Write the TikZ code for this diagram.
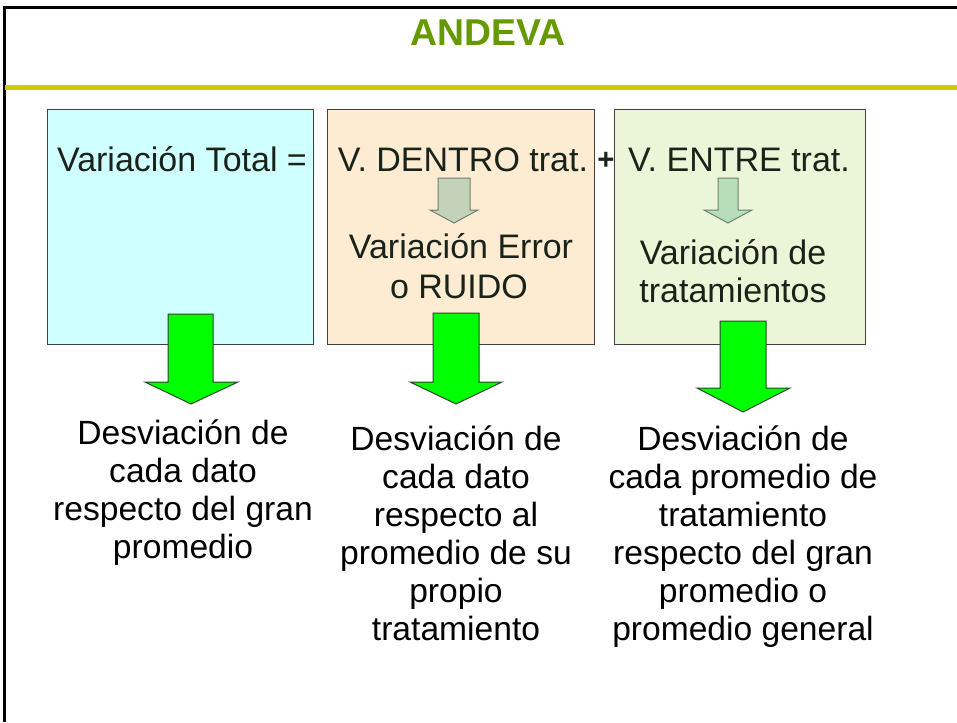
\documentclass[tikz,border=0pt]{standalone}
\usepackage{fontspec}
\setmainfont{Liberation Sans}
\usepackage{tikz}

\begin{document}
\begin{tikzpicture}[x=0.75pt,y=0.75pt,yscale=-1,xscale=1,
  boxtxt/.style={font=\fontsize{25.5}{28.5}\selectfont, color={rgb, 255:red, 25; green, 35; blue, 25 }, anchor=base, inner sep=0pt},
  bottxt/.style={font=\fontsize{25.2}{28.5}\selectfont, align=center, anchor=north, inner sep=0pt},
  panel/.style={draw={rgb, 255:red, 64; green, 64; blue, 64 }, line width=0.75pt},
  bigarrow/.style={draw={rgb, 255:red, 40; green, 70; blue, 40 }, fill={rgb, 255:red, 0; green, 255; blue, 0 }, line width=0.75pt},
  smallarrow/.style={draw={rgb, 255:red, 110; green, 130; blue, 110 }, line width=0.75pt}]
\useasboundingbox (0,0) rectangle (957,722);

%Frame
\draw [line width=2.25pt] (4,722) -- (4,7.5) -- (957,7.5) ;
%Title
\node [font=\fontsize{28}{34}\selectfont\bfseries, color={rgb, 255:red, 102; green, 153; blue, 0 }, anchor=base, inner sep=0pt] (title) at (488,45) {ANDEVA};
%Straight Lines: rule under title
\draw [color={rgb, 255:red, 204; green, 204; blue, 0 }, line width=3.75pt] (5,87) -- (957,87) ;

%Shape: Rectangle total
\draw [panel, fill={rgb, 255:red, 208; green, 255; blue, 255 }] (47,109) rectangle (313,344) ;
%Shape: Rectangle dentro
\draw [panel, fill={rgb, 255:red, 253; green, 235; blue, 210 }] (327,109) rectangle (594,344) ;
%Shape: Rectangle entre
\draw [panel, fill={rgb, 255:red, 235; green, 245; blue, 215 }] (614,109) rectangle (865,344) ;

%Text in boxes
\node [boxtxt] (vtotal) at (182,171) {Variación Total =};
\node [boxtxt] (vdentro) at (463,171) {V. DENTRO trat.};
\node [boxtxt, font=\fontsize{22}{24}\selectfont\bfseries] (plus) at (606,169) {+};
\node [boxtxt] (ventre) at (739,171) {V. ENTRE trat.};
\node [boxtxt] (verror) at (461,258) {Variación Error};
\node [boxtxt] (vruido) at (459,298) {o RUIDO};
\node [boxtxt] (vde) at (733,264) {Variación de};
\node [boxtxt] (vtrat) at (733,302) {tratamientos};

%Shape: Down Arrow small, dentro
\draw [smallarrow, fill={rgb, 255:red, 195; green, 210; blue, 185 }] (438,178) -- (470,178) -- (470,210) -- (478,210) -- (454,223) -- (430,210) -- (438,210) -- cycle ;
%Shape: Down Arrow small, entre
\draw [smallarrow, fill={rgb, 255:red, 183; green, 222; blue, 185 }] (718,178) -- (738,178) -- (738,210) -- (752,210) -- (728,223) -- (704,210) -- (718,210) -- cycle ;

%Shape: Down Arrow total
\draw [bigarrow] (168,314) -- (213,314) -- (213,382) -- (238,382) -- (191,404) -- (145,382) -- (168,382) -- cycle ;
%Shape: Down Arrow dentro
\draw [bigarrow] (433,313) -- (479,313) -- (479,382) -- (502,382) -- (456,404) -- (410,382) -- (433,382) -- cycle ;
%Shape: Down Arrow entre
\draw [bigarrow] (720,321) -- (766,321) -- (766,388) -- (790,388) -- (743,412) -- (697,388) -- (720,388) -- cycle ;

%Text under arrows
\node [bottxt] (dtotal) at (183,419) {Desviación de\\cada dato\\respecto del gran\\promedio};
\node [bottxt] (ddentro) at (456,425) {Desviación de\\cada dato\\respecto al\\promedio de su\\propio\\tratamiento};
\node [bottxt] (dentre) at (743,425) {Desviación de\\cada promedio de\\tratamiento\\respecto del gran\\promedio o\\promedio general};

\end{tikzpicture}
\end{document}
